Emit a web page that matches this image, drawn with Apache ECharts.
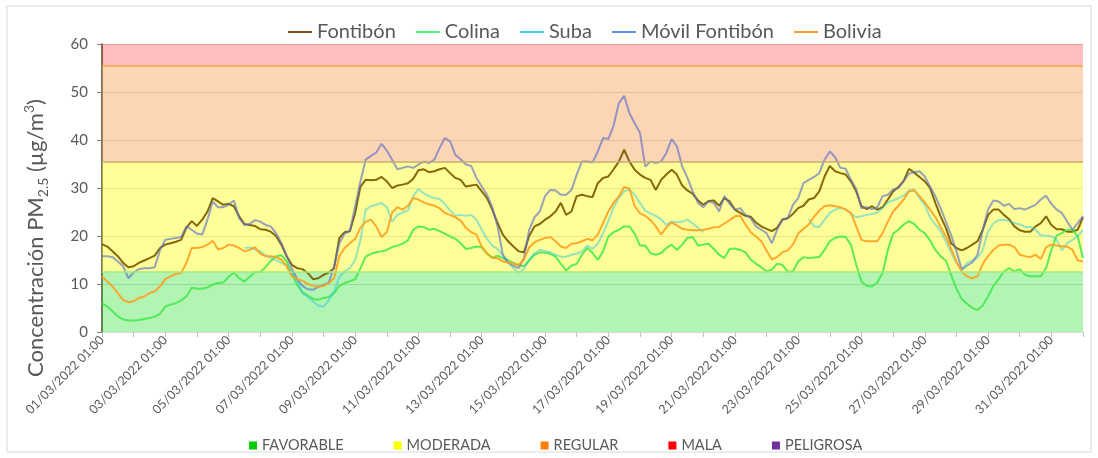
<!DOCTYPE html>
<html>
<head>
<meta charset="utf-8">
<script src="https://cdn.jsdelivr.net/npm/echarts@6/dist/echarts.min.js"></script>
<style>
  html, body { margin: 0; padding: 0; background: #ffffff; }
  #chart { width: 1098px; height: 458px; }
</style>
</head>
<body>
<div id="chart"></div>
<script>
// ---------- DATA ----------
// hourly-station data read every 4 hours, starting 01/03/2022 01:00
const startTime = Date.UTC(2022, 2, 1, 1, 0);
const stepHours = 4;

const seriesNames = ['Fontibón', 'Colina', 'Suba', 'Móvil Fontibón', 'Bolivia'];

const fontibon = [
  18.3,17.8,16.8,15.8,14.4,13.5,13.7,14.4,14.9,15.4,
  15.9,17.5,18.2,18.5,18.8,19.2,21.7,23.1,22.1,23.4,
  25.1,27.9,27.2,26.5,26.7,26.2,24.1,22.5,22.3,22.1,
  21.4,21.3,20.9,20.0,18.2,15.8,14.0,13.3,13.1,12.3,
  11.0,11.2,11.9,12.4,13.3,19.6,20.8,21.0,24.8,30.3,
  31.7,31.6,31.7,32.3,31.4,30.0,30.5,30.7,31.0,31.9,
  33.7,33.9,33.3,33.5,33.9,34.2,33.1,32.1,31.7,30.3,
  30.5,30.7,29.3,27.9,25.5,22.7,20.3,18.9,17.8,16.8,
  16.6,20.0,22.0,22.5,23.4,24.1,25.1,26.9,24.4,25.1,
  28.3,28.6,28.3,28.1,31.0,32.1,32.4,33.9,35.5,38.0,
  35.5,33.8,32.8,32.1,31.7,29.6,31.7,32.8,33.8,32.8,
  30.5,29.5,28.8,27.4,26.5,27.3,27.4,26.3,27.9,27.2,
  25.5,24.8,24.2,24.0,22.8,22.0,21.5,21.0,21.7,23.4,
  23.7,24.6,25.8,26.3,27.6,27.9,29.3,32.4,34.6,33.5,
  33.1,32.8,31.4,29.3,26.2,25.6,26.2,25.5,26.0,27.6,
  29.3,30.2,31.5,34.0,33.2,32.3,31.4,30.0,26.9,24.1,
  21.7,18.5,17.5,17.0,17.5,18.2,18.9,21.3,24.4,25.5,
  25.5,24.4,23.5,22.0,21.2,20.9,20.9,22.0,22.7,24.1,
  22.3,21.4,21.4,20.9,20.9,21.3,23.9
];

const colina = [
  6.0,5.3,4.3,3.3,2.6,2.4,2.4,2.5,2.7,2.9,
  3.2,3.8,5.3,5.7,6.0,6.6,7.4,9.2,9.0,9.0,
  9.3,9.9,10.2,10.3,11.5,12.4,11.2,10.5,11.5,12.5,
  12.5,13.5,14.8,15.8,16.0,14.7,12.2,9.8,8.3,7.6,
  6.9,6.7,7.1,7.3,8.1,9.6,10.2,10.6,11.0,13.3,
  15.7,16.3,16.6,16.8,17.1,17.7,18.0,18.4,19.1,21.3,
  22.0,21.9,21.3,21.5,21.0,20.5,19.9,19.4,18.5,17.3,
  17.5,17.8,17.7,16.3,15.5,15.9,15.4,14.9,14.4,13.9,
  13.7,14.9,16.1,16.6,16.5,16.3,15.7,14.2,12.8,13.8,
  14.2,16.1,17.5,16.5,15.0,16.8,19.9,20.8,21.3,22.0,
  22.0,20.5,18.0,18.0,16.4,16.1,16.4,17.5,18.2,17.1,
  18.2,19.6,19.8,18.0,18.2,18.4,17.3,16.1,15.4,17.3,
  17.4,17.1,16.6,15.1,14.2,13.5,12.6,13.0,14.2,14.0,
  12.6,12.6,14.7,15.6,15.4,15.5,15.6,17.1,18.9,19.6,
  19.9,19.8,18.2,14.0,10.5,9.6,9.5,10.3,12.3,17.1,
  20.5,21.3,22.4,23.1,22.5,21.3,20.6,19.1,17.1,15.8,
  14.9,11.9,9.0,6.9,5.9,5.0,4.6,5.5,7.4,9.6,
  11.0,12.6,13.3,12.6,13.1,11.9,11.6,11.6,11.6,13.3,
  17.1,20.1,20.6,21.3,21.3,19.9,15.4
];

const suba = [
  null,null,null,null,null,null,null,null,null,null,
  null,null,null,null,null,null,null,null,null,null,
  null,null,null,null,null,null,null,17.5,17.6,17.2,
  16.8,16.0,15.4,15.0,14.4,13.9,12.6,10.6,8.1,7.3,
  6.4,5.5,5.3,6.6,8.5,11.4,12.6,13.3,15.0,19.2,
  25.5,26.2,26.5,26.9,26.0,23.0,24.4,24.9,25.3,28.3,
  29.8,28.9,28.3,27.9,27.7,26.7,25.3,24.2,24.4,24.2,
  24.4,23.4,21.3,19.4,18.0,17.3,15.9,14.4,13.3,12.4,
  13.1,15.1,16.4,17.1,16.9,16.6,16.1,15.7,15.7,16.1,
  16.3,16.8,18.0,17.3,18.4,20.6,23.1,26.0,27.9,29.3,
  29.7,28.6,26.9,25.3,24.7,24.2,23.5,22.3,23.0,22.8,
  23.0,23.4,22.6,21.7,20.8,null,null,null,null,null,
  null,null,null,null,null,null,null,null,null,null,
  null,null,null,null,23.5,22.0,21.9,23.4,24.8,25.5,
  25.8,25.6,24.6,23.9,24.1,24.4,24.6,24.9,25.8,27.0,
  27.4,27.9,28.4,29.5,29.7,27.9,26.5,23.9,22.4,21.0,
  18.9,16.5,14.4,12.8,14.4,14.9,15.4,17.1,21.0,22.6,
  23.3,23.4,23.1,22.7,22.4,21.9,21.9,21.3,20.1,20.1,
  19.9,19.2,17.0,18.5,19.2,19.9,21.3
];

const movilFontibon = [
  15.8,15.8,15.6,14.7,13.7,11.2,12.4,13.1,13.3,13.3,
  13.5,17.1,19.2,19.4,19.6,19.8,22.0,21.3,20.5,20.3,
  23.4,27.2,26.0,26.0,26.5,27.4,23.7,22.3,22.5,23.3,
  23.0,22.3,22.0,20.6,18.6,15.9,13.3,11.0,9.6,8.9,
  8.8,9.4,9.8,10.3,13.7,18.5,20.5,21.0,26.2,31.4,
  35.9,36.7,37.4,39.2,37.8,35.9,33.9,34.2,34.5,34.2,
  34.9,35.5,35.2,35.9,38.3,40.4,39.7,36.9,36.0,34.9,
  34.6,32.1,30.3,28.6,26.0,22.0,16.1,14.5,13.8,13.3,
  15.4,21.3,23.9,25.1,28.3,29.6,29.5,28.6,28.6,29.6,
  32.8,35.5,35.5,35.3,37.6,40.4,40.2,43.0,47.7,49.2,
  45.6,43.5,41.5,34.5,35.5,35.2,35.5,37.3,40.2,38.7,
  34.5,32.1,29.3,26.9,26.0,27.2,26.9,25.1,28.3,26.7,
  25.5,25.8,24.4,23.7,22.0,21.3,20.6,18.5,21.3,23.5,
  23.7,26.5,27.9,31.0,31.7,32.3,33.1,35.9,37.6,36.4,
  34.2,34.0,31.7,29.8,25.8,26.0,25.6,26.0,28.3,28.6,
  29.7,30.0,31.4,33.0,33.3,33.5,32.4,30.3,28.3,25.8,
  23.0,20.2,16.8,13.1,13.8,14.5,16.1,21.3,25.5,27.4,
  27.2,26.3,26.7,25.6,25.8,25.5,26.0,26.5,27.6,28.4,
  26.7,25.5,24.8,23.0,21.3,22.7,24.2
];

const bolivia = [
  11.6,10.5,9.5,8.1,6.7,6.2,6.4,7.1,7.4,8.1,
  8.5,9.5,11.0,11.6,12.1,12.3,14.4,17.5,17.5,17.7,
  18.2,19.0,17.2,17.5,18.2,18.0,17.5,16.8,17.1,17.7,
  16.3,15.8,15.8,15.6,15.1,13.7,11.6,11.0,10.7,10.0,
  9.6,9.5,9.6,10.2,11.2,15.8,17.5,18.5,19.4,21.7,
  23.0,23.4,22.0,19.8,20.8,24.9,26.0,25.5,26.3,27.9,
  27.6,27.0,26.6,26.3,25.8,24.8,24.4,23.9,23.2,21.7,
  20.8,20.3,17.8,16.4,15.4,15.4,14.7,14.5,14.2,14.0,
  15.1,17.6,18.7,19.2,19.6,19.8,18.9,17.8,17.5,18.4,
  18.5,18.9,19.4,19.1,20.3,22.7,25.1,26.9,28.3,30.2,
  29.9,26.2,24.7,24.2,23.3,22.0,20.3,21.8,22.8,22.2,
  21.5,21.3,21.2,21.2,21.3,21.5,21.8,21.9,22.6,23.3,
  24.1,24.2,22.4,20.8,19.9,18.9,17.0,15.1,15.6,16.6,
  17.0,18.2,20.5,21.5,22.4,24.0,25.3,26.2,26.4,26.2,
  26.0,25.5,24.8,22.0,19.2,18.9,18.9,18.9,20.6,23.0,
  25.1,26.3,27.6,29.3,29.5,28.3,27.0,25.5,24.0,21.9,
  19.9,17.3,14.7,12.6,11.6,11.2,11.6,14.2,15.8,17.1,
  18.0,18.2,18.2,17.7,16.1,15.8,15.6,16.1,15.2,17.7,
  18.2,18.0,17.8,17.8,17.1,14.9,14.7
];

// air-quality bands (µg/m³), drawn up to the axis top
const zoneNames = ['FAVORABLE', 'MODERADA', 'REGULAR', 'MALA', 'PELIGROSA'];
const zoneRanges = [[0, 12.5], [12.5, 35.5], [35.5, 55.5], [55.5, 60], null];

const yTicks = { min: 0, max: 60, interval: 10 };

// ---------- STYLES ----------
const legendColors = ['#7f5010', '#4cef78', '#48ccf8', '#6b8de6', '#ff9c30'];
const lineColors = ['#7f6000', '#3ee84a', '#2ec8e0', '#5f70c8', '#ffa020'];
const lineOpacity = [0.95, 0.85, 0.5, 0.65, 0.9];
const zoneLegendColors = ['#00cc00', '#ffff00', '#ff7f00', '#ff0000', '#7030a0'];
const zoneFillColors = ['rgba(0,220,0,0.30)', 'rgba(255,255,0,0.40)', 'rgba(247,150,70,0.40)', 'rgba(255,0,0,0.26)', 'rgba(0,0,0,0)'];
const zoneTopLineColors = ['#a6ea7c', '#c4ac6c', '#f5a444', null, null];

const pad = n => (n < 10 ? '0' : '') + n;
const categories = fontibon.map((_, i) => {
  const d = new Date(startTime + i * stepHours * 3600 * 1000);
  return pad(d.getUTCDate()) + '/' + pad(d.getUTCMonth() + 1) + '/' + d.getUTCFullYear() +
         ' ' + pad(d.getUTCHours()) + ':' + pad(d.getUTCMinutes());
});

const textColor = '#595959';
const fontFamily = 'Lato, "Liberation Sans", sans-serif';

const lineData = [fontibon, colina, suba, movilFontibon, bolivia];

const zoneSeries = zoneNames.map((name, k) => {
  const s = {
    name: name,
    type: 'line',
    data: [],
    z: 1,
    silent: true,
    itemStyle: { color: zoneLegendColors[k] },
    lineStyle: { color: zoneLegendColors[k] }
  };
  if (zoneRanges[k]) {
    s.markArea = {
      silent: true,
      itemStyle: { color: zoneFillColors[k] },
      label: { show: false },
      data: [[{ yAxis: zoneRanges[k][0] }, { yAxis: zoneRanges[k][1] }]]
    };
    if (zoneTopLineColors[k]) {
      s.markLine = {
        silent: true,
        symbol: 'none',
        label: { show: false },
        lineStyle: { color: zoneTopLineColors[k], width: 1.5, type: 'solid' },
        data: [{ yAxis: zoneRanges[k][1] }]
      };
    }
  }
  return s;
});

const dataSeries = seriesNames.map((name, k) => ({
  name: name,
  type: 'line',
  data: lineData[k],
  z: 3,
  showSymbol: false,
  symbol: 'none',
  connectNulls: false,
  itemStyle: { color: legendColors[k] },
  lineStyle: { color: lineColors[k], width: 2, opacity: lineOpacity[k] }
}));

const chart = echarts.init(document.getElementById('chart'), null, { renderer: 'canvas' });
chart.setOption({
  animation: false,
  backgroundColor: '#ffffff',
  textStyle: { fontFamily: fontFamily },
  grid: { left: 102, right: 15, top: 44, bottom: 126, containLabel: false },
  legend: [
    {
      data: seriesNames,
      left: 283,
      top: 17,
      icon: 'rect',
      itemWidth: 24,
      itemHeight: 2,
      itemGap: 20,
      selectedMode: false,
      itemStyle: { opacity: 1 },
      textStyle: { color: textColor, fontSize: 20, fontFamily: fontFamily }
    },
    {
      data: zoneNames,
      left: 244,
      top: 433,
      icon: 'rect',
      itemWidth: 8,
      itemHeight: 8,
      itemGap: 50,
      selectedMode: false,
      textStyle: { color: textColor, fontSize: 14.5, fontFamily: fontFamily }
    }
  ],
  xAxis: {
    type: 'category',
    data: categories,
    boundaryGap: false,
    axisLine: { show: true, lineStyle: { color: '#d9d9d9', width: 1 } },
    axisTick: { show: true, interval: 5, length: 5, lineStyle: { color: '#bfbfbf' } },
    axisLabel: {
      interval: 11,
      rotate: 45,
      fontSize: 12.5,
      color: textColor,
      fontFamily: fontFamily,
      margin: 6
    },
    splitLine: { show: false }
  },
  yAxis: {
    type: 'value',
    min: yTicks.min,
    max: yTicks.max,
    interval: yTicks.interval,
    axisLine: { show: true, lineStyle: { color: '#4a4a2a', width: 1.5 } },
    axisTick: { show: true, length: 5, lineStyle: { color: '#7f7f7f' } },
    axisLabel: { fontSize: 15, color: textColor, margin: 14, fontFamily: fontFamily },
    splitLine: { show: true, lineStyle: { color: '#d9d9d9', width: 1 } }
  },
  graphic: [
    {
      type: 'rect',
      silent: true,
      shape: { x: 7, y: 6, width: 1084, height: 446 },
      style: { fill: 'none', stroke: '#d9d9d9', lineWidth: 1 }
    },
    {
      type: 'text',
      silent: true,
      x: 36,
      y: 238,
      rotation: Math.PI / 2,
      style: {
        text: '{a|Concentración PM}{s|2.5}{a| (µg/m}{p|3}{a|)}',
        align: 'center',
        verticalAlign: 'middle',
        rich: {
          a: { fontSize: 22, fontFamily: fontFamily, fill: textColor, lineHeight: 28, verticalAlign: 'middle' },
          s: { fontSize: 14, fontFamily: fontFamily, fill: textColor, lineHeight: 28, verticalAlign: 'bottom' },
          p: { fontSize: 14, fontFamily: fontFamily, fill: textColor, lineHeight: 28, verticalAlign: 'top' }
        }
      }
    }
  ],
  series: zoneSeries.concat(dataSeries)
});
</script>
</body>
</html>
